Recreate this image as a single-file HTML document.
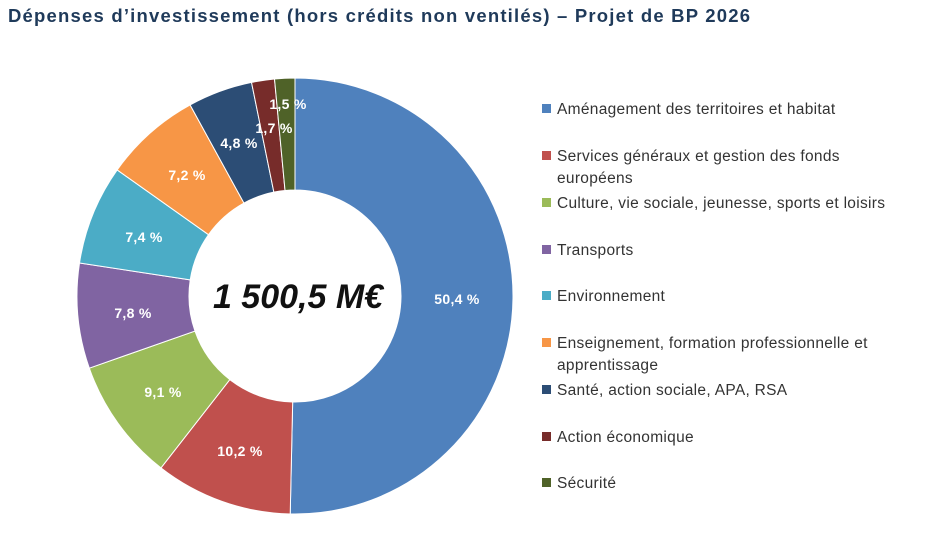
<!DOCTYPE html>
<html><head><meta charset="utf-8"><style>
body{margin:0;background:#fff;width:944px;height:552px;overflow:hidden;font-family:"Liberation Sans",sans-serif}
</style></head><body>
<svg id="s" width="944" height="552" xmlns="http://www.w3.org/2000/svg">
<text x="8" y="22" font-size="18.5" font-weight="bold" fill="#1f3a5a" letter-spacing="1.2" font-family="Liberation Sans, sans-serif">Dépenses d’investissement (hors crédits non ventilés) – Projet de BP 2026</text>
<g id="d"></g>
<text x="298" y="308" text-anchor="middle" font-size="34" font-weight="bold" font-style="italic" fill="#111" font-family="Liberation Sans, sans-serif">1 500,5 M€</text>
<g font-size="15.5" fill="#333" letter-spacing="0.3" font-family="Liberation Sans, sans-serif">
<rect x="542" y="104" width="9" height="9" fill="#4f81bd"/><text x="557" y="114">Aménagement des territoires et habitat</text>
<rect x="542" y="151" width="9" height="9" fill="#c0504d"/><text x="557" y="161">Services généraux et gestion des fonds</text><text x="557" y="183">européens</text>
<rect x="542" y="198" width="9" height="9" fill="#9bbb59"/><text x="557" y="208">Culture, vie sociale, jeunesse, sports et loisirs</text>
<rect x="542" y="245" width="9" height="9" fill="#8064a2"/><text x="557" y="255">Transports</text>
<rect x="542" y="291" width="9" height="9" fill="#4bacc6"/><text x="557" y="301">Environnement</text>
<rect x="542" y="338" width="9" height="9" fill="#f79646"/><text x="557" y="348">Enseignement, formation professionnelle et</text><text x="557" y="370">apprentissage</text>
<rect x="542" y="385" width="9" height="9" fill="#2c4d75"/><text x="557" y="395">Santé, action sociale, APA, RSA</text>
<rect x="542" y="432" width="9" height="9" fill="#772c2a"/><text x="557" y="442">Action économique</text>
<rect x="542" y="478" width="9" height="9" fill="#4f6228"/><text x="557" y="488">Sécurité</text>
</g>
</svg>
<script>
var v=[50.4,10.2,9.1,7.8,7.4,7.2,4.8,1.7,1.5],c=["#4f81bd","#c0504d","#9bbb59","#8064a2","#4bacc6","#f79646","#2c4d75","#772c2a","#4f6228"];
var lab=["50,4 %","10,2 %","9,1 %","7,8 %","7,4 %","7,2 %","4,8 %","1,7 %","1,5 %"];
var cx=295,cy=296,R=218,r=106,t=v.reduce((a,b)=>a+b),a=0,h="",g="";
function p(ang,rr){return [cx+rr*Math.sin(ang),cy-rr*Math.cos(ang)];}
var lp=[[457,304],[240,456],[163,397],[133,318],[144,242],[187,180],[239,148],[274,133],[288,109]];
for(var i=0;i<v.length;i++){var a0=a/t*2*Math.PI;a+=v[i];var a1=a/t*2*Math.PI;var L=(a1-a0)>Math.PI?1:0;
var A=p(a0,R),B=p(a1,R),C=p(a1,r),D=p(a0,r);
h+='<path d="M'+A+' A'+R+','+R+' 0 '+L+' 1 '+B+' L'+C+' A'+r+','+r+' 0 '+L+' 0 '+D+'Z" fill="'+c[i]+'" stroke="#fff" stroke-width="1"/>';
g+='<text x="'+lp[i][0]+'" y="'+lp[i][1]+'" text-anchor="middle" font-size="14" font-weight="bold" letter-spacing="0.3" fill="#fff" font-family="Liberation Sans, sans-serif">'+lab[i]+'</text>';}
document.getElementById("d").innerHTML=h+g;
</script>
</body></html>
